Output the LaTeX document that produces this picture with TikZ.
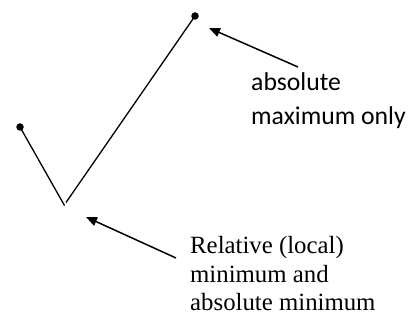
\documentclass[tikz,border=0pt]{standalone}
\usepackage{fontspec}
\newfontfamily\calfont{Carlito}
\newfontfamily\timesfont{Liberation Serif}
\usetikzlibrary{arrows.meta}
\tikzset{
  curve/.style={line width=1.3pt, black},
  pointer/.style={line width=1.5pt, black, -{Triangle[length=11pt,width=9pt]}},
  dotmark/.style={circle, fill=black, inner sep=0pt, minimum size=7.5pt},
  sanslabel/.style={anchor=base west, inner sep=0pt, font=\calfont\fontsize{25.7}{30}\selectfont},
  seriflabel/.style={anchor=base west, inner sep=0pt, font=\timesfont\fontsize{24.8}{29}\selectfont},
}
\begin{document}
\begin{tikzpicture}[x=1pt, y=-1pt]
\useasboundingbox (0,0) rectangle (411,320);
% points
\node[dotmark] (top) at (195,16) {};
\node[dotmark] (left) at (20,127) {};
\coordinate (vtx) at (64.5,205.5);
\coordinate (vtxr) at (66,202.5);
% curve
\draw[curve] (left.center) -- (vtx);
\draw[curve] (vtxr) -- (top.center);
% labels
\node[sanslabel] (l1) at (251,91) {absolute};
\node[sanslabel] (l2) at (251,125) {maximum only};
\node[seriflabel] (r1) at (190,253) {Relative (local)};
\node[seriflabel] (r2) at (190,282) {minimum and};
\node[seriflabel] (r3) at (190,310) {absolute minimum};
% arrows
\coordinate (a1s) at (298,67);
\coordinate (a1e) at (209,28);
\coordinate (a2s) at (176,258);
\coordinate (a2e) at (86,217);
\draw[pointer] (a1s) -- (a1e);
\draw[pointer] (a2s) -- (a2e);
\end{tikzpicture}
\end{document}
